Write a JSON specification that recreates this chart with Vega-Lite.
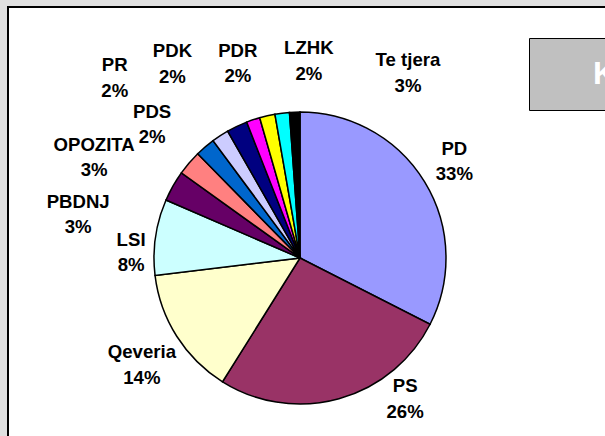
{
  "$schema": "https://vega.github.io/schema/vega-lite/v6.json",
  "background": "#e0e0e0",
  "padding": {"left": 7, "top": 6, "right": 0, "bottom": 0},
  "autosize": {"type": "pad"},
  "spacing": 0,
  "bounds": "flush",
  "resolve": {"scale": {"color": "independent"}, "legend": {"color": "independent"}},
  "hconcat": [
    {
      "width": 584,
      "height": 502,
      "view": {"fill": "white", "stroke": "black", "strokeWidth": 2, "strokeDash": [584, 1086, 502]},
      "data": {
        "values": [
          {"k": 1, "name": "PD", "value": 32.5, "label": "PD\n33%"},
          {"k": 2, "name": "PS", "value": 26.4, "label": "PS\n26%"},
          {"k": 3, "name": "Qeveria", "value": 14.2, "label": "Qeveria\n14%"},
          {"k": 4, "name": "LSI", "value": 8.4, "label": "LSI\n8%"},
          {"k": 5, "name": "PBDNJ", "value": 3.4, "label": "PBDNJ\n3%"},
          {"k": 6, "name": "OPOZITA", "value": 2.75, "label": "OPOZITA\n3%"},
          {"k": 7, "name": "PDS", "value": 2.2, "label": "PDS\n2%"},
          {"k": 8, "name": "PR", "value": 1.9, "label": "PR\n2%"},
          {"k": 9, "name": "PDK", "value": 2.3, "label": "PDK\n2%"},
          {"k": 10, "name": "PDR", "value": 1.5, "label": "PDR\n2%"},
          {"k": 11, "name": "LZHK", "value": 1.7, "label": "LZHK\n2%"},
          {"k": 12, "name": "", "value": 1.6, "label": ""},
          {"k": 13, "name": "Te tjera", "value": 1.15, "label": "Te tjera\n3%"}
        ]
      },
      "encoding": {
        "theta": {"field": "value", "type": "quantitative", "stack": true},
        "order": {"field": "k", "type": "quantitative"}
      },
      "layer": [
        {
          "mark": {"type": "arc", "outerRadius": 146, "stroke": "black", "strokeWidth": 1.5},
          "encoding": {
            "color": {
              "field": "name",
              "type": "nominal",
              "scale": {
                "domain": ["PD", "PS", "Qeveria", "LSI", "PBDNJ", "OPOZITA", "PDS", "PR", "PDK", "PDR", "LZHK", "", "Te tjera"],
                "range": ["#9999ff", "#993366", "#ffffcc", "#ccffff", "#660066", "#ff8080", "#0066cc", "#ccccff", "#000080", "#ff00ff", "#ffff00", "#00ffff", "#000000"]
              },
              "legend": null
            }
          }
        },
        {
          "mark": {
            "type": "text",
            "font": "Liberation Sans",
            "fontSize": 18.6,
            "fontWeight": "bold",
            "color": "black",
            "lineBreak": "\n",
            "lineHeight": 25.5,
            "align": "center",
            "baseline": "middle",
            "dy": -13,
            "radius": {"expr": "({'PD':182,'PS':176,'Qeveria':191,'LSI':169,'PBDNJ':226,'OPOZITA':229,'PDS':199,'PR':258,'PDK':232,'PDR':204,'LZHK':197,'':160,'Te tjera':214})[datum.name]"},
            "thetaOffset": {"expr": "({'PD':-0.009,'PS':-0.37,'Qeveria':-0.03,'LSI':-0.112,'PBDNJ':-0.323,'OPOZITA':-0.255,'PDS':-0.131,'PR':-0.223,'PDK':-0.136,'PDR':0.017,'LZHK':0.271,'':0,'Te tjera':0.565})[datum.name]"}
          },
          "encoding": {"text": {"field": "label", "type": "nominal"}}
        }
      ]
    },
    {
      "width": 60,
      "height": 502,
      "view": {"fill": "white", "stroke": "black", "strokeWidth": 2, "strokeDash": [60, 1200]},
      "data": {"values": [{"title": "KOHA E TRANSMETIMIT"}]},
      "mark": {"type": "rect", "opacity": 0},
      "encoding": {
        "color": {
          "field": "title",
          "type": "nominal",
          "scale": {"range": ["#c0c0c0"]},
          "legend": {
            "orient": "none",
            "legendX": -63,
            "legendY": 31,
            "title": null,
            "fillColor": "#c0c0c0",
            "strokeColor": "#000000",
            "padding": 20,
            "symbolSize": 1,
            "symbolOpacity": 0,
            "symbolStrokeWidth": 0,
            "labelOffset": 12,
            "labelColor": "white",
            "labelFont": "Liberation Sans",
            "labelFontSize": 32,
            "labelFontWeight": "bold",
            "labelLimit": 800
          }
        }
      }
    }
  ]
}
